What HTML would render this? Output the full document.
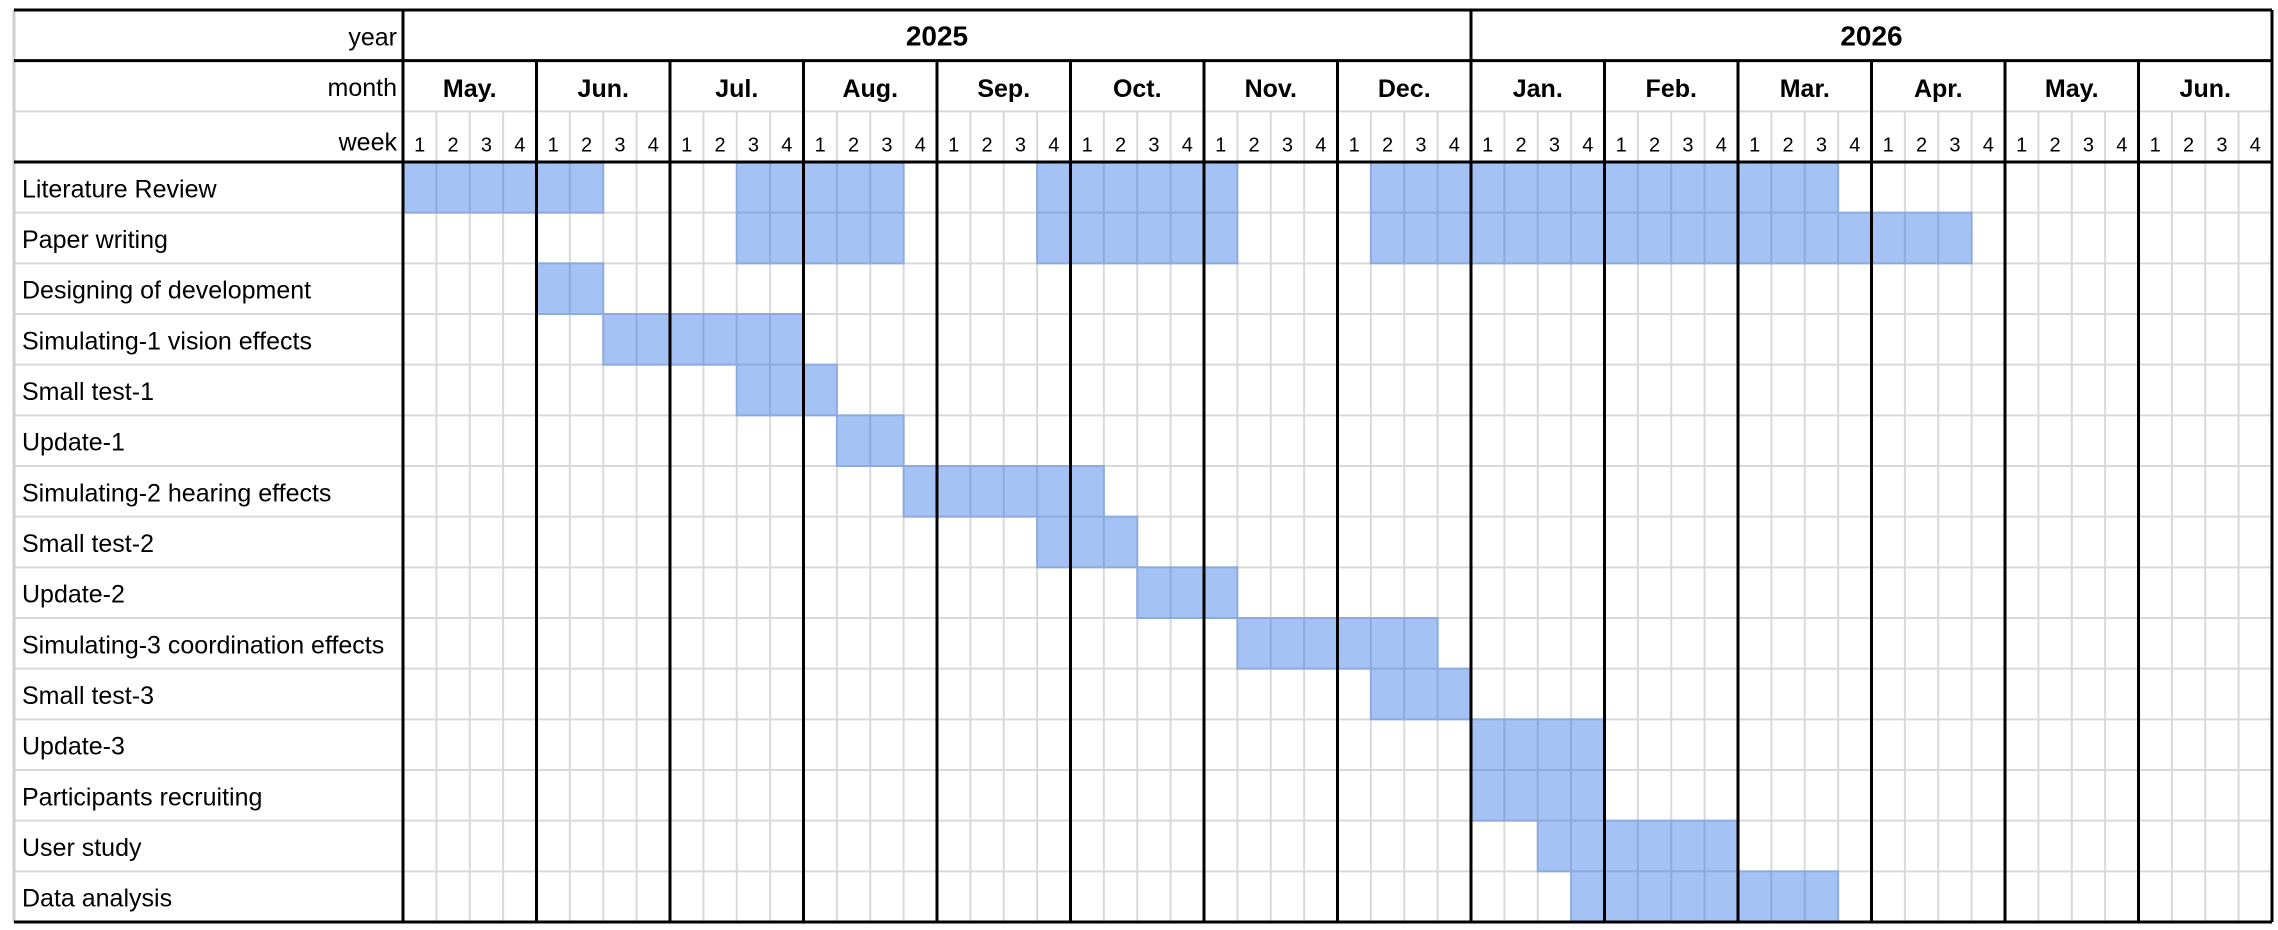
<!DOCTYPE html>
<html><head><meta charset="utf-8"><style>
html,body{margin:0;padding:0;background:#fff;}
svg{display:block;font-family:"Liberation Sans",Arial,sans-serif;}
</style></head><body>
<svg id="chart" width="2278" height="930" viewBox="0 0 2278 930" xmlns="http://www.w3.org/2000/svg"></svg>
<script>
const tasks = ["Literature Review","Paper writing","Designing of development","Simulating-1 vision effects","Small test-1","Update-1","Simulating-2 hearing effects","Small test-2","Update-2","Simulating-3 coordination effects","Small test-3","Update-3","Participants recruiting","User study","Data analysis"];
// each task: list of [startWeek, endWeek] inclusive, week 0 = May 2025 week 1
const taskSpans = [
  [[0,5],[10,14],[19,24],[29,42]],
  [[10,14],[19,24],[29,46]],
  [[4,5]],
  [[6,11]],
  [[10,12]],
  [[13,14]],
  [[15,20]],
  [[19,21]],
  [[22,24]],
  [[25,30]],
  [[29,31]],
  [[32,35]],
  [[32,35]],
  [[34,39]],
  [[35,42]]
];
const months = ["May.","Jun.","Jul.","Aug.","Sep.","Oct.","Nov.","Dec.","Jan.","Feb.","Mar.","Apr.","May.","Jun."];
const years = ["2025","2026"];
const yearMonths = [8,6];
const weekLabels = ["1","2","3","4"];

const NS="http://www.w3.org/2000/svg";
const svg=document.getElementById('chart');
const L=14, X0=403, R=2272, T=10, B=922;
const nWeeks=months.length*4;
const W=(R-X0)/nWeeks;
const H=(B-T)/(tasks.length+3);
const xw=i=>X0+i*W;
const yr=i=>T+i*H;
function el(tag,attrs,parent){const e=document.createElementNS(NS,tag);for(const k in attrs)e.setAttribute(k,attrs[k]);(parent||svg).appendChild(e);return e;}
function line(x1,y1,x2,y2,c,w,p){return el('line',{x1,y1,x2,y2,stroke:c,'stroke-width':w},p);}

const grid=el('g',{});


for(let i=0;i<=nWeeks;i++) line(xw(i),yr(2),xw(i),B,'#d9d9d9',2,grid);
for(let r=2;r<=tasks.length+3;r++) line(L,yr(r),R,yr(r),'#d9d9d9',2,grid);
line(L,T,L,B,'#cfcfcf',3,grid);

const bars=el('g',{});


taskSpans.forEach((spans,ti)=>{
  spans.forEach(([s,e])=>{
    for(let w=s;w<=e;w++){
      const c=el('rect',{x:xw(w),y:yr(ti+3),width:W,height:H,fill:'#a4c2f4',stroke:'#8eabdd','stroke-width':2},bars);
      
      
    }
  });
});

tasks.forEach((t,i)=>{
  const tx=el('text',{x:22,y:yr(i+3)+H/2+10,'font-size':25,fill:'#000'});
  tx.textContent=t;
  
  
});
[["year",0],["month",1],["week",2]].forEach(([t,r])=>{
  const tx=el('text',{x:397,y:yr(r)+H/2+(r===2?14:10),'font-size':25,'text-anchor':'end',fill:'#000'});
  tx.textContent=t;
  
  
});
let mi=0;
years.forEach((y,i)=>{
  const s=mi*4,e=(mi+yearMonths[i])*4;
  const tx=el('text',{x:(xw(s)+xw(e))/2,y:yr(0)+H/2+10,'font-size':28,'font-weight':'bold','text-anchor':'middle'});
  tx.textContent=y;
  
  
  mi+=yearMonths[i];
});
months.forEach((m,i)=>{
  const tx=el('text',{x:xw(i*4+2),y:yr(1)+H/2+11,'font-size':25,'font-weight':'bold','text-anchor':'middle'});
  tx.textContent=m;
  
  
  weekLabels.forEach((w,j)=>{
    const t2=el('text',{x:xw(i*4+j)+W/2,y:yr(2)+H/2+15,'font-size':20,'text-anchor':'middle'});
    t2.textContent=w;
    
    
  });
});

line(L,T,R,T,'#000',3);
line(L,yr(1),R,yr(1),'#000',3);
line(L,yr(3),R,yr(3),'#000',3);
line(L,B,R,B,'#000',3);
line(X0,T,X0,B,'#000',3);
line(R,T,R,B,'#000',3);
for(let i=1;i<months.length;i++) line(xw(i*4),yr(1),xw(i*4),B,'#000',3);
line(xw(yearMonths[0]*4),T,xw(yearMonths[0]*4),B,'#000',3);
</script>
</body></html>
